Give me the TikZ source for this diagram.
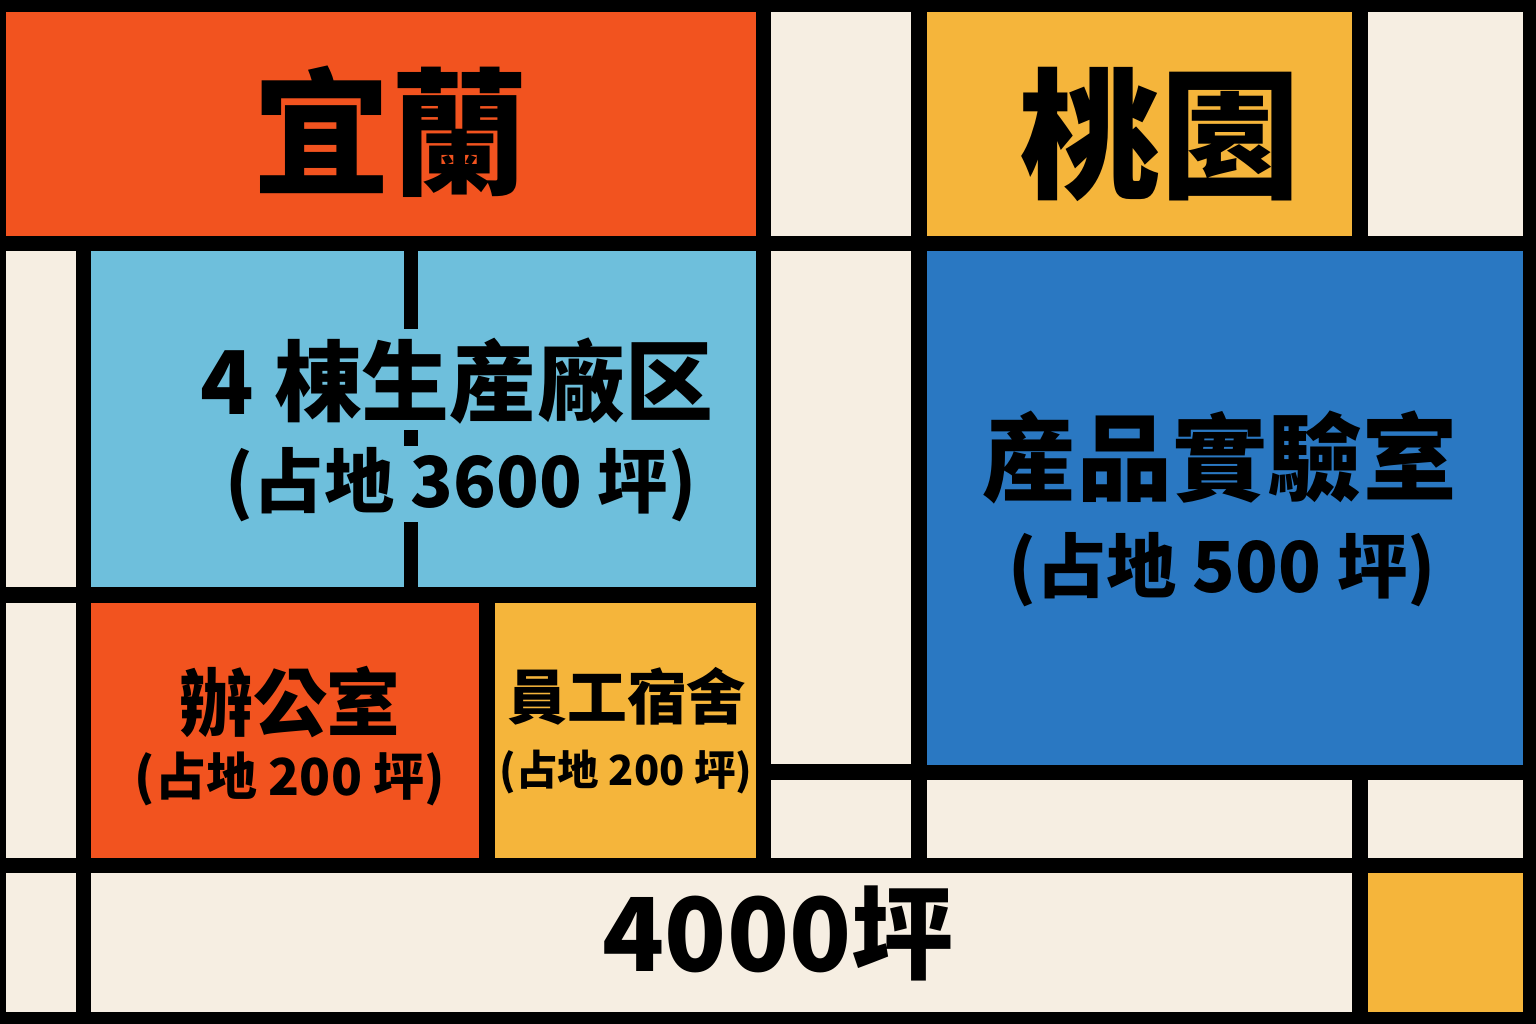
\documentclass[tikz,border=0pt]{standalone}
\usepackage{fontspec}
\newfontfamily\cjk{Noto Sans CJK TC}
\usepackage{tikz}
\usetikzlibrary{positioning}

\definecolor{mred}{HTML}{F2531F}
\definecolor{myel}{HTML}{F5B53B}
\definecolor{mlblue}{HTML}{6EBFDC}
\definecolor{mblue}{HTML}{2A78C2}
\definecolor{mcream}{HTML}{F6EEE2}

\tikzset{
  title/.style={font=\cjk\bfseries\fontsize{39pt}{40pt}\selectfont, inner sep=0pt},
  head/.style={font=\cjk\bfseries\fontsize{24pt}{26pt}\selectfont, inner sep=0pt},
  area/.style={font=\cjk\bfseries\fontsize{20pt}{22pt}\selectfont, inner sep=0pt}
}

\begin{document}
\begin{tikzpicture}[x=0.01cm, y=-0.01cm]
\useasboundingbox (0,0) rectangle (1536,1024);
\fill[black] (0,0) rectangle (1536,1024);
% top row
\fill[mred] (6,12) rectangle (756,236);
\fill[mcream] (771,12) rectangle (911,236);
\fill[myel] (927,12) rectangle (1352,236);
\fill[mcream] (1368,12) rectangle (1523,236);
% second row
\fill[mcream] (6,251) rectangle (76,587);
\fill[mlblue] (91,251) rectangle (756,587);
\fill[mcream] (771,251) rectangle (911,764);
\fill[mblue] (927,251) rectangle (1523,765);
\fill[black] (404,251) rectangle (418,329);
\fill[black] (404,430) rectangle (418,446);
\fill[black] (404,522) rectangle (418,587);
% third row
\fill[mcream] (6,603) rectangle (76,858);
\fill[mred] (91,603) rectangle (479,858);
\fill[myel] (495,603) rectangle (756,858);
\fill[mcream] (771,780) rectangle (911,858);
\fill[mcream] (927,780) rectangle (1352,858);
\fill[mcream] (1368,780) rectangle (1523,858);
% bottom row
\fill[mcream] (6,873) rectangle (76,1012);
\fill[mcream] (91,873) rectangle (1352,1012);
\fill[myel] (1368,873) rectangle (1523,1012);

% labels
\node[title] (yilan) at (391,132) {宜蘭};
\node[title, font=\cjk\bfseries\fontsize{40pt}{41pt}\selectfont] (taoyuan) at (1160,134) {桃園};
\node[head, font=\cjk\bfseries\fontsize{25pt}{26pt}\selectfont] (plant) at (457,381) {4 棟生産廠区};
\node[area] (plantarea) at (461,485) {(占地 3600 坪)};
\node[head, font=\cjk\bfseries\fontsize{27pt}{28pt}\selectfont] (lab) at (1220,457) {産品實驗室};
\node[area] (labarea) at (1222,570) {(占地 500 坪)};
\node[head, font=\cjk\bfseries\fontsize{21pt}{22pt}\selectfont] (office) at (290,702) {辦公室};
\node[area, font=\cjk\bfseries\fontsize{14.5pt}{16pt}\selectfont] (officearea) at (290,779) {(占地 200 坪)};
\node[head, font=\cjk\bfseries\fontsize{17pt}{18pt}\selectfont] (dorm) at (627,696) {員工宿舍};
\node[area, font=\cjk\bfseries\fontsize{11.8pt}{13pt}\selectfont] (dormarea) at (626,772) {(占地 200 坪)};
\node[title, font=\cjk\bfseries\fontsize{29pt}{30pt}\selectfont] (total) at (778,933) {4000坪};
\end{tikzpicture}
\end{document}
